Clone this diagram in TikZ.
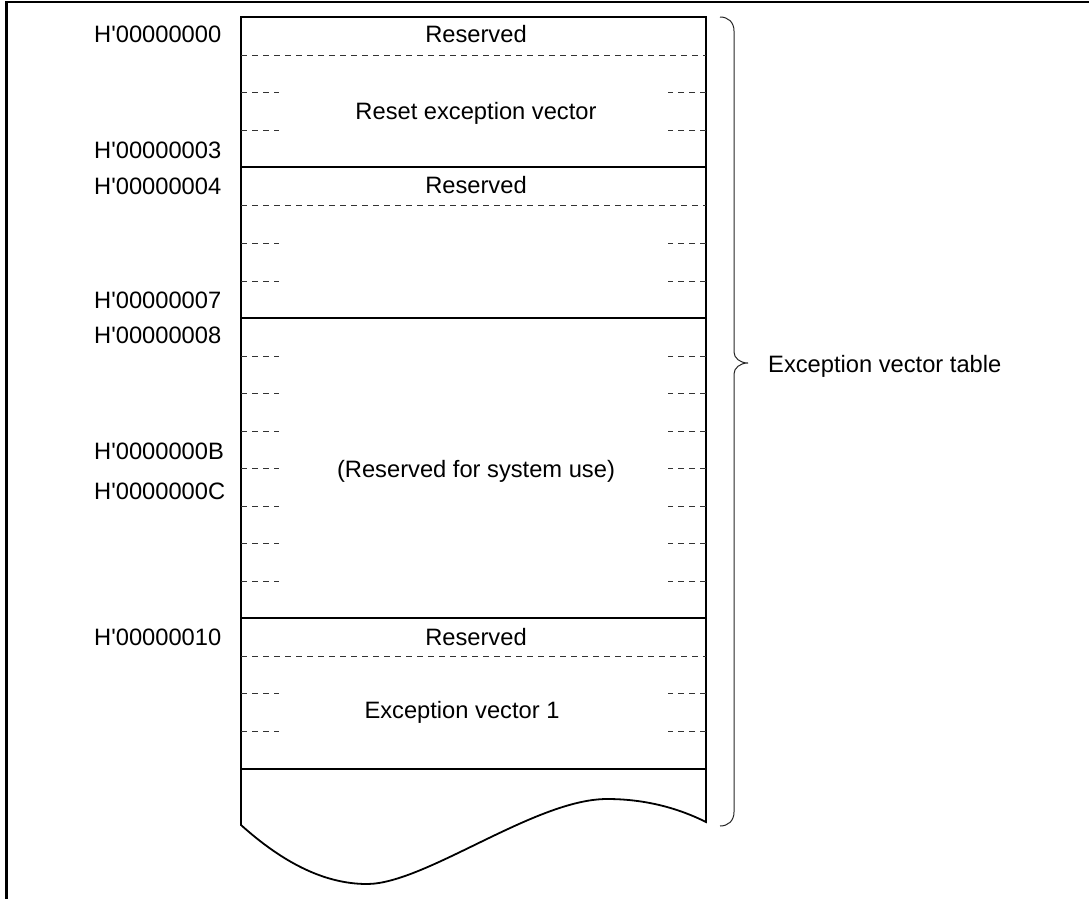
\documentclass[tikz,border=0pt]{standalone}
\usepackage{fontspec}
\newfontfamily\arialfont{Liberation Sans}
\begin{document}
\begin{tikzpicture}[x=1pt,y=-1pt,
  frame/.style={line width=2.4pt},
  solidl/.style={line width=1.8pt},
  dashl/.style={line width=0.8pt, black!80, dash pattern=on 6pt off 5pt},
  bracel/.style={line width=1pt, black!85},
  txt/.style={inner sep=0pt, anchor=base, font=\arialfont\fontsize{23.7}{28}\selectfont},
  addr/.style={txt, anchor=base west}]
\useasboundingbox (0,0) rectangle (1089,899);
% outer frame
\draw[frame] (6.5,899) -- (6.5,2) -- (1089,2);
% memory block outline with wavy bottom
\draw[solidl, line join=miter] (241,17) -- (706,17) -- (706,822)
  .. controls (680,809) and (647,799) .. (607,799)
  .. controls (535,799) and (425,884) .. (367,884)
  .. controls (322,884) and (280,860) .. (241,825) -- cycle;
% solid separators
\foreach \y in {167,318,618,769}
  \draw[solidl] (241,\y) -- (706,\y);
% full-width dashed separators
\foreach \y in {55,205,656}
  \draw[dashl] (241,\y) -- (706,\y);
% short dashed ticks
\foreach \y in {92,130,243,281,356,393.5,431,468.5,506,543.5,581,693.5,731}{
  \draw[dashl] (241,\y) -- (279,\y);
  \draw[dashl] (706,\y) -- (668,\y);
}
% brace
\draw[bracel] (720,17) .. controls (728,17) and (734,22) .. (734,31)
  -- (734,352) .. controls (734,358) and (740,363) .. (748,363)
  .. controls (740,363) and (734,368) .. (734,374)
  -- (734,812) .. controls (734,821) and (728,826) .. (720,826);
% address labels
\node[addr] (a0) at (94,42.5) {H'00000000};
\node[addr] (a3) at (94,158.5) {H'00000003};
\node[addr] (a4) at (94,194) {H'00000004};
\node[addr] (a7) at (94,308.5) {H'00000007};
\node[addr] (a8) at (94,343.5) {H'00000008};
\node[addr] (aB) at (94,459.5) {H'0000000B};
\node[addr] (aC) at (94,499) {H'0000000C};
\node[addr] (a10) at (94,645) {H'00000010};
% contents
\node[txt] (r1) at (476,43) {Reserved};
\node[txt] (rv) at (476,119.5) {Reset exception vector};
\node[txt] (r2) at (476,193.5) {Reserved};
\node[txt] (sys) at (476,477.3) {(Reserved for system use)};
\node[txt] (r3) at (476,645) {Reserved};
\node[txt] (ev1) at (462,718.3) {Exception vector 1};
% table label
\node[addr] (evt) at (768,372.3) {Exception vector table};
\end{tikzpicture}
\end{document}
